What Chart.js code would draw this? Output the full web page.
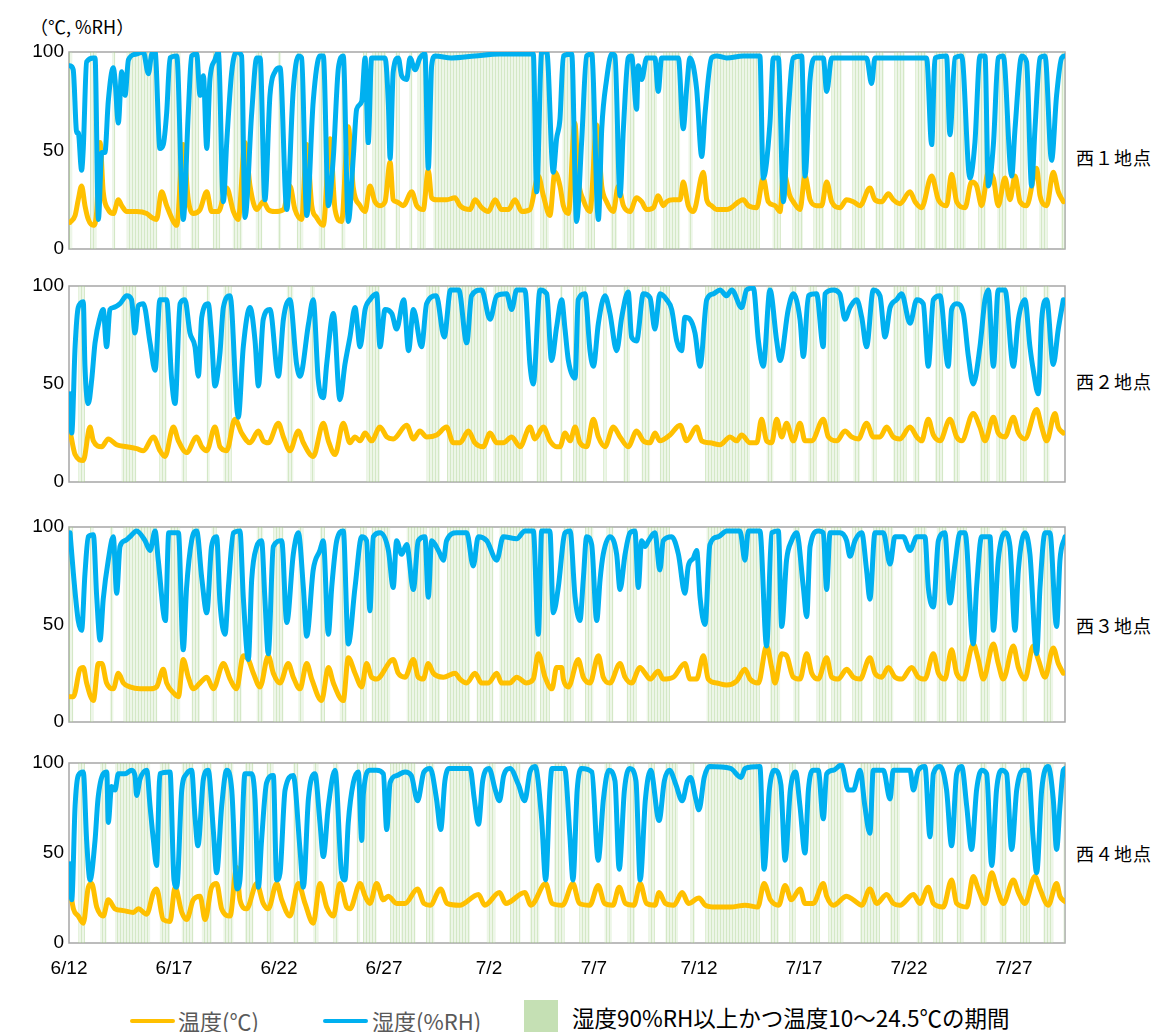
<!DOCTYPE html>
<html>
<head>
<meta charset="utf-8">
<script src="https://cdn.jsdelivr.net/npm/chart.js@4.4.1/dist/chart.umd.min.js"></script>
<style>
  body { margin: 0; background: #fff; }
  #page { position: relative; width: 1159px; height: 1032px; overflow: hidden; font-family: "Noto Sans CJK JP", sans-serif; }
  #page canvas { position: absolute; left: 0; }
  .txt { position: absolute; line-height: 1; white-space: nowrap; transform: translateY(-50%); }
  .site { left: 1076px; font-size: 18px; color: #000; letter-spacing: 1px; }
  .key { position: absolute; height: 4px; width: 45px; border-radius: 2px; }
</style>
</head>
<body>
<div id="page">
  <div class="txt" style="left:30px; top:26px; font-size:18px; color:#000;">（℃, %RH）</div>

  <div class="key" style="left:130px; top:1019px; background:#ffc000;"></div>
  <div class="txt" style="left:178px; top:1020px; font-size:22px; color:#595959;">温度(℃)</div>
  <div class="key" style="left:323px; top:1019px; background:#00b0f0;"></div>
  <div class="txt" style="left:372px; top:1020px; font-size:22px; color:#595959;">湿度(%RH)</div>
  <div style="position:absolute; left:524px; top:1000px; width:34px; height:32px; background:#c5e0b4;"></div>
  <div class="txt" style="left:572px; top:1017px; font-size:22.5px; color:#000;">湿度90%RH以上かつ温度10～24.5℃の期間</div>
</div>
<script>
// x = days from 6/12 0:00
const tickLabels = ['6/12', '6/17', '6/22', '6/27', '7/2', '7/7', '7/12', '7/17', '7/22', '7/27'];
const siteNames = ['西１地点', '西２地点', '西３地点', '西４地点'];

// 西1
const w1Hum = [[0.05,93],[0.2,91],[0.37,59],[0.44,59],[0.6,40],[0.68,51],[0.84,95],[1.16,97],[1.24,97],[1.4,15],[1.56,49],[1.71,49],[1.87,75],[2.11,92],[2.19,86],[2.35,64],[2.51,90],[2.67,78],[2.83,96],[3.22,99],[3.54,100],[3.78,89],[3.94,99],[4.1,100],[4.33,51],[4.49,53],[4.65,69],[4.81,97],[5.13,98],[5.44,15],[5.68,69],[5.84,98],[6.08,99],[6.24,78],[6.4,88],[6.56,51],[6.71,86],[6.95,96],[7.11,100],[7.35,24],[7.51,54],[7.75,90],[7.98,100],[8.22,98],[8.38,16],[8.7,69],[8.94,97],[9.1,97],[9.33,25],[9.57,78],[9.81,90],[10.05,92],[10.37,20],[10.68,81],[10.92,98],[11.08,97],[11.32,17],[11.63,75],[11.95,98],[12.11,98],[12.35,22],[12.59,47],[12.83,92],[13.06,98],[13.3,14],[13.54,47],[13.7,71],[13.94,75],[14.1,97],[14.25,54],[14.41,97],[14.81,97],[15.05,97],[15.21,73],[15.29,46],[15.44,90],[15.68,97],[15.84,88],[16.08,86],[16.24,97],[16.48,91],[16.71,97],[16.95,99],[17.11,41],[17.27,93],[17.43,98],[18.22,97],[19.33,98],[20.5,99],[22.11,99],[22.27,29],[22.51,100],[22.75,100],[23.06,39],[23.22,56],[23.38,66],[23.54,98],[23.94,99],[24.17,14],[24.41,54],[24.65,98],[24.89,99],[25.21,15],[25.37,61],[25.6,86],[25.84,99],[26.0,98],[26.24,27],[26.4,61],[26.63,97],[26.79,98],[27.03,71],[27.11,93],[27.27,86],[27.51,97],[27.9,97],[28.06,80],[28.22,97],[29.02,97],[29.25,61],[29.41,81],[29.57,97],[29.89,81],[30.13,47],[30.29,69],[30.6,97],[30.84,98],[31.32,97],[32.11,98],[32.9,98],[33.06,36],[33.38,64],[33.54,97],[33.78,97],[34.02,24],[34.25,69],[34.49,97],[34.89,98],[35.05,37],[35.29,86],[35.52,97],[35.92,97],[36.08,80],[36.32,97],[37.98,97],[38.22,84],[38.38,97],[40.84,97],[41.08,53],[41.24,97],[41.79,98],[41.95,58],[42.19,97],[42.51,98],[42.9,36],[43.14,54],[43.38,98],[43.62,98],[43.78,32],[44.02,53],[44.25,97],[44.49,98],[44.89,37],[45.05,61],[45.37,98],[45.6,95],[45.84,32],[46.0,61],[46.24,97],[46.48,98],[46.79,45],[47.03,78],[47.27,97],[47.43,98]];
const w1Temp = [[0.05,13.5],[0.29,17],[0.44,25],[0.6,32],[0.76,22],[0.92,15],[1.16,12],[1.32,19],[1.48,54],[1.63,29],[1.87,20],[2.11,18],[2.35,25],[2.51,22],[2.75,19],[3.22,19],[3.7,18],[3.94,16],[4.17,15],[4.41,29],[4.65,22],[4.97,14],[5.13,12],[5.44,53],[5.68,25],[5.92,18],[6.24,20],[6.56,29],[6.79,19],[7.11,19],[7.51,31],[7.83,19],[8.06,15],[8.38,54],[8.62,32],[8.94,20],[9.25,24],[9.49,20],[9.81,19],[10.21,20],[10.52,32],[10.76,20],[11.08,15],[11.32,53],[11.56,22],[11.79,16],[12.11,12],[12.43,56],[12.67,20],[12.98,14],[13.3,62],[13.54,31],[13.86,22],[14.1,19],[14.33,32],[14.57,24],[14.81,22],[15.05,24],[15.29,44],[15.44,25],[15.6,24],[15.92,22],[16.32,29],[16.56,22],[16.87,20],[17.11,40],[17.27,26],[17.51,25],[17.98,25],[18.38,26],[18.62,22],[19.1,20],[19.33,25],[19.65,21],[19.97,19],[20.29,25],[20.6,20],[20.92,20],[21.24,25],[21.56,19],[21.95,20],[22.35,37],[22.59,27],[22.9,17],[23.14,39],[23.38,32],[23.54,22],[23.78,18],[24.09,64],[24.25,36],[24.49,25],[24.81,19],[25.13,63],[25.37,32],[25.6,24],[25.92,19],[26.16,32],[26.4,22],[26.71,19],[27.03,26],[27.27,24],[27.51,20],[27.83,21],[28.06,27],[28.3,22],[28.46,24],[28.78,25],[29.1,25],[29.25,34],[29.49,22],[29.73,19],[30.21,39],[30.37,25],[30.6,22],[30.84,20],[31.32,20],[32.11,25],[32.35,22],[32.75,21],[33.06,36],[33.3,24],[33.62,22],[33.86,19],[34.02,39],[34.33,27],[34.49,24],[34.81,20],[35.05,37],[35.29,25],[35.6,22],[35.84,22],[36.08,34],[36.32,24],[36.71,21],[37.03,25],[37.35,24],[37.67,22],[38.14,31],[38.38,25],[38.7,24],[39.02,28],[39.25,25],[39.57,23],[40.05,29],[40.29,24],[40.6,21],[41.08,37],[41.4,25],[41.79,22],[42.03,38],[42.27,24],[42.67,21],[42.98,34],[43.22,32],[43.46,22],[43.78,39],[44.02,36],[44.25,22],[44.57,36],[44.81,25],[45.05,37],[45.29,24],[45.6,22],[46.08,41],[46.24,27],[46.56,22],[46.87,39],[47.11,29],[47.35,24]];
const w1Wet = [[0,0.15],[1.0,1.3],[2.05,2.2],[2.75,4.2],[4.8,5.3],[5.8,6.2],[6.85,7.2],[7.8,8.25],[8.9,9.2],[9.95,10.1],[10.85,11.15],[11.9,12.2],[12.95,13.15],[14.0,14.2],[14.45,15.1],[15.55,15.75],[16.2,16.35],[16.6,17.0],[17.35,22.15],[22.45,22.85],[23.5,24.05],[24.6,25.05],[25.8,26.1],[26.6,26.95],[27.45,28.0],[28.3,29.1],[29.5,29.7],[30.6,32.9],[33.5,33.9],[34.45,34.95],[35.45,35.95],[36.3,36.8],[37.3,37.9],[38.4,38.8],[39.3,39.8],[40.3,40.8],[41.2,41.8],[42.15,42.7],[43.3,43.65],[44.2,44.65],[45.3,45.6],[46.2,46.6],[47.25,47.43]];

// 西2
const w2Hum = [[0.05,45],[0.13,25],[0.29,69],[0.44,89],[0.68,92],[0.76,59],[0.92,40],[1.08,52],[1.24,71],[1.48,84],[1.63,88],[1.79,69],[1.95,88],[2.11,89],[2.43,91],[2.75,95],[2.98,93],[3.14,76],[3.3,90],[3.54,91],[3.86,71],[4.1,57],[4.33,93],[4.65,93],[4.89,52],[5.05,40],[5.29,91],[5.52,93],[5.76,76],[6.0,69],[6.16,54],[6.32,84],[6.63,91],[6.79,74],[6.95,49],[7.19,66],[7.35,89],[7.67,95],[8.06,33],[8.3,69],[8.62,89],[8.86,72],[9.02,49],[9.25,83],[9.57,88],[9.97,54],[10.21,83],[10.52,93],[10.84,60],[11.0,54],[11.41,81],[11.63,93],[11.87,52],[12.11,43],[12.27,60],[12.59,86],[12.9,42],[13.14,60],[13.38,74],[13.62,89],[13.86,69],[14.1,88],[14.33,93],[14.65,96],[14.81,69],[15.05,88],[15.37,86],[15.6,78],[15.94,93],[16.17,67],[16.4,88],[16.79,69],[17.03,91],[17.49,95],[17.87,74],[18.17,98],[18.56,98],[18.94,71],[19.17,95],[19.65,98],[20.05,83],[20.37,95],[20.84,96],[21.08,88],[21.32,98],[21.71,98],[21.95,60],[22.11,50],[22.43,98],[22.75,96],[22.98,62],[23.22,79],[23.46,93],[23.62,78],[23.78,62],[24.1,53],[24.25,93],[24.57,96],[24.81,67],[24.97,59],[25.21,81],[25.52,95],[25.76,86],[26.08,67],[26.32,84],[26.63,97],[26.79,74],[27.03,72],[27.35,96],[27.67,94],[27.9,78],[28.14,96],[28.46,93],[28.7,88],[28.94,72],[29.17,67],[29.33,84],[29.57,83],[29.81,76],[30.05,59],[30.37,93],[30.68,96],[31.0,98],[31.32,95],[31.56,98],[32.03,89],[32.27,98],[32.59,99],[32.83,72],[33.06,59],[33.38,98],[33.7,72],[33.86,62],[34.25,88],[34.49,96],[34.81,83],[34.97,64],[35.21,95],[35.6,96],[35.92,69],[36.0,96],[36.4,98],[36.71,96],[36.95,83],[37.19,89],[37.51,93],[37.75,84],[37.98,69],[38.3,98],[38.62,95],[38.86,74],[39.1,89],[39.41,93],[39.65,96],[40.05,81],[40.37,93],[40.68,91],[40.92,59],[41.16,93],[41.48,95],[41.87,59],[42.03,88],[42.27,91],[42.59,86],[42.83,64],[43.06,50],[43.38,69],[43.62,93],[43.78,98],[44.02,59],[44.25,98],[44.57,98],[44.97,59],[45.21,83],[45.52,93],[45.76,69],[45.92,57],[46.16,45],[46.32,83],[46.56,93],[46.87,60],[47.11,78],[47.35,93]];
const w2Temp = [[0.05,26],[0.29,14],[0.68,11],[1.0,28],[1.16,21],[1.56,18],[1.87,22],[2.27,19],[2.75,18],[3.22,17],[3.54,16],[4.02,23],[4.33,16],[4.57,13],[4.97,28],[5.21,21],[5.6,15],[6.08,23],[6.32,18],[6.56,16],[6.95,28],[7.19,18],[7.51,16],[7.9,32],[8.22,25],[8.62,20],[9.02,26],[9.25,21],[9.49,20],[9.97,30],[10.21,23],[10.52,16],[10.92,26],[11.16,20],[11.63,13],[12.11,30],[12.35,21],[12.67,14],[13.06,30],[13.38,20],[13.62,23],[13.86,21],[14.1,25],[14.41,21],[14.81,28],[15.13,23],[15.44,22],[16.08,29],[16.4,22],[16.71,26],[17.03,23],[17.51,24],[17.98,28],[18.3,20],[18.62,20],[19.02,26],[19.33,20],[19.73,18],[20.05,25],[20.37,20],[20.68,20],[21.08,23],[21.48,18],[21.95,28],[22.19,22],[22.59,28],[22.9,21],[23.22,18],[23.38,18],[23.62,25],[23.86,21],[24.1,28],[24.33,20],[24.65,18],[24.97,32],[25.21,23],[25.52,18],[25.92,28],[26.24,23],[26.63,18],[27.03,26],[27.35,21],[27.67,20],[27.9,25],[28.14,21],[28.62,24],[29.1,29],[29.41,21],[29.89,28],[30.13,21],[30.52,20],[31.0,19],[31.48,23],[31.79,21],[32.03,24],[32.43,20],[32.75,20],[32.98,32],[33.22,21],[33.46,20],[33.7,32],[33.94,23],[34.17,30],[34.49,21],[34.81,30],[35.05,21],[35.37,21],[35.92,32],[36.16,23],[36.56,21],[36.95,26],[37.27,23],[37.59,22],[37.98,30],[38.3,23],[38.62,23],[38.94,28],[39.25,23],[39.57,22],[40.05,28],[40.37,23],[40.6,21],[40.92,32],[41.16,24],[41.48,21],[41.95,32],[42.27,23],[42.51,21],[43.06,35],[43.38,28],[43.62,21],[44.02,33],[44.25,25],[44.57,23],[44.97,33],[45.21,25],[45.52,22],[46.08,37],[46.32,28],[46.56,21],[46.95,35],[47.11,28],[47.35,25]];
const w2Wet = [[0.44,0.76],[2.5,3.2],[4.3,4.65],[5.36,5.6],[6.56,6.7],[7.35,7.75],[10.37,10.68],[11.48,11.71],[14.17,14.8],[17.03,17.67],[18.0,19.9],[20.2,21.6],[22.27,22.75],[23.38,23.5],[24.0,24.65],[25.44,25.6],[26.4,26.71],[27.27,27.67],[28.14,28.62],[30.29,32.43],[33.22,33.54],[34.33,34.65],[35.21,35.6],[36.08,36.71],[37.35,37.67],[38.22,38.46],[39.25,39.89],[40.2,40.5],[41.24,41.63],[42.11,42.43],[43.38,43.86],[44.17,44.65],[45.29,45.6],[46.4,46.7]];

// 西3
const w3Hum = [[0.05,97],[0.21,76],[0.44,52],[0.6,47],[0.76,76],[0.92,95],[1.16,96],[1.32,64],[1.48,42],[1.63,63],[1.87,83],[2.11,95],[2.27,66],[2.43,90],[2.67,93],[2.9,95],[3.22,98],[3.62,93],[3.86,88],[4.1,98],[4.25,83],[4.59,52],[4.75,97],[5.21,97],[5.44,37],[5.6,69],[5.84,93],[6.08,98],[6.32,74],[6.56,56],[6.79,90],[7.03,95],[7.19,61],[7.43,45],[7.59,69],[7.83,97],[8.14,98],[8.3,64],[8.54,32],[8.7,73],[8.94,90],[9.17,93],[9.33,63],[9.49,35],[9.73,90],[10.13,93],[10.37,51],[10.68,86],[10.92,97],[11.16,69],[11.32,44],[11.63,78],[11.95,88],[12.11,93],[12.35,45],[12.51,69],[12.75,93],[13.06,98],[13.3,40],[13.62,69],[13.94,95],[14.17,93],[14.33,57],[14.49,95],[14.81,97],[15.21,88],[15.44,69],[15.6,93],[15.84,86],[16.08,91],[16.4,68],[16.63,93],[16.95,95],[17.11,64],[17.27,93],[17.59,88],[17.83,83],[17.98,93],[18.46,97],[18.94,97],[19.25,80],[19.49,95],[19.89,93],[20.37,83],[20.68,95],[21.32,94],[21.71,98],[22.11,98],[22.35,45],[22.51,98],[22.9,98],[23.06,56],[23.3,69],[23.54,93],[23.62,97],[23.86,98],[24.1,64],[24.33,52],[24.49,73],[24.65,95],[24.89,91],[25.13,52],[25.29,73],[25.44,86],[25.76,95],[26.08,86],[26.24,68],[26.48,86],[26.71,97],[26.95,98],[27.11,69],[27.27,93],[27.43,90],[27.6,93],[27.9,97],[28.14,78],[28.3,93],[28.7,95],[29.02,86],[29.33,66],[29.49,80],[29.73,84],[29.89,88],[30.05,64],[30.29,50],[30.52,91],[30.92,95],[31.32,98],[31.95,98],[32.19,83],[32.35,98],[32.9,98],[33.22,39],[33.46,97],[33.78,98],[33.94,49],[34.17,83],[34.41,93],[34.65,97],[34.97,69],[35.13,54],[35.29,90],[35.68,98],[35.92,97],[36.08,68],[36.24,97],[36.71,97],[37.03,93],[37.19,85],[37.43,93],[37.75,97],[37.98,78],[38.14,63],[38.38,97],[38.78,97],[39.1,81],[39.33,95],[39.73,95],[40.05,88],[40.37,95],[40.76,95],[40.92,69],[41.16,59],[41.4,93],[41.71,97],[41.95,61],[42.19,81],[42.43,97],[42.67,97],[43.06,40],[43.22,69],[43.46,95],[43.86,95],[44.02,47],[44.25,83],[44.57,97],[44.81,90],[45.05,47],[45.21,78],[45.52,97],[45.76,86],[46.08,35],[46.24,69],[46.48,97],[46.71,97],[47.03,49],[47.19,83],[47.43,95]];
const w3Temp = [[0.05,13],[0.21,13],[0.52,27],[0.68,28],[0.84,20],[1.16,11],[1.4,30],[1.56,30],[1.79,20],[2.11,17],[2.35,25],[2.59,20],[2.9,18],[3.38,17],[3.86,17],[4.17,18],[4.49,27],[4.65,20],[4.97,15],[5.21,13],[5.44,32],[5.68,23],[5.92,17],[6.24,20],[6.56,23],[6.87,17],[7.35,30],[7.67,22],[7.98,17],[8.3,34],[8.54,32],[8.78,25],[9.1,18],[9.49,34],[9.73,25],[10.05,20],[10.44,30],[10.68,23],[11.0,17],[11.32,30],[11.56,22],[12.03,11],[12.35,28],[12.59,20],[13.06,11],[13.3,33],[13.62,25],[13.94,18],[14.17,30],[14.41,23],[14.65,22],[15.44,32],[15.68,25],[16.0,23],[16.4,32],[16.63,23],[16.87,22],[17.11,30],[17.35,25],[17.83,23],[18.38,25],[18.62,22],[18.94,20],[19.33,25],[19.65,20],[19.97,20],[20.37,25],[20.6,20],[20.98,20],[21.32,23],[21.79,20],[22.11,22],[22.35,35],[22.67,23],[23.0,17],[23.22,28],[23.46,28],[23.54,22],[23.78,18],[24.25,32],[24.49,23],[24.81,20],[25.21,34],[25.44,23],[25.76,20],[26.24,30],[26.48,23],[26.79,20],[27.19,28],[27.43,25],[27.67,22],[28.06,26],[28.3,22],[28.78,23],[29.33,30],[29.57,22],[29.89,22],[30.21,34],[30.44,22],[30.84,20],[31.32,19],[31.79,21],[32.19,27],[32.43,22],[32.83,20],[33.22,39],[33.46,28],[33.62,20],[33.94,35],[34.17,34],[34.49,23],[34.81,22],[35.13,35],[35.37,25],[35.68,22],[36.08,33],[36.32,23],[36.63,22],[37.03,27],[37.35,23],[37.67,22],[38.14,33],[38.38,25],[38.7,23],[39.02,28],[39.33,23],[39.65,22],[40.13,28],[40.44,23],[40.76,22],[41.16,35],[41.4,25],[41.71,22],[42.03,37],[42.27,25],[42.59,22],[43.06,40],[43.3,32],[43.54,22],[44.02,40],[44.25,30],[44.49,22],[44.97,39],[45.21,28],[45.52,22],[45.92,39],[46.16,32],[46.48,23],[46.87,38],[47.11,30],[47.35,25]];
const w3Wet = [[0,0.2],[1.0,1.16],[1.95,2.11],[2.6,4.2],[4.81,5.29],[5.84,6.24],[6.79,7.03],[7.83,8.22],[8.94,9.25],[9.73,10.21],[10.92,11.16],[11.95,12.19],[12.9,13.22],[13.86,14.17],[14.41,15.29],[16.08,17.03],[17.17,17.67],[18.0,19.1],[19.41,20.21],[20.5,22.27],[22.43,22.9],[23.54,24.02],[24.57,24.97],[25.6,25.92],[26.56,27.03],[27.51,28.62],[30.36,32.9],[33.38,33.86],[34.49,34.81],[35.6,36.08],[36.3,36.8],[37.3,37.8],[38.3,39.25],[40.2,40.84],[41.33,41.8],[42.27,42.75],[43.38,43.86],[44.33,44.65],[45.37,45.6],[46.4,46.87]];

// 西4
const w4Hum = [[0.05,44],[0.13,24],[0.29,76],[0.44,93],[0.68,95],[0.84,57],[1.0,35],[1.24,57],[1.38,80],[1.63,94],[1.8,95],[1.87,67],[2.03,87],[2.19,85],[2.35,94],[2.67,94],[2.98,96],[3.14,93],[3.22,82],[3.38,91],[3.7,96],[3.86,76],[4.02,57],[4.17,43],[4.33,94],[4.81,95],[5.0,35],[5.13,31],[5.37,85],[5.6,94],[5.84,96],[6.0,70],[6.14,54],[6.4,91],[6.63,96],[6.87,63],[7.03,39],[7.27,76],[7.51,96],[7.75,85],[8.0,30],[8.14,35],[8.38,94],[8.7,94],[8.86,80],[9.02,31],[9.17,57],[9.41,89],[9.73,93],[9.89,35],[10.05,39],[10.29,85],[10.68,93],[11.0,52],[11.16,31],[11.4,80],[11.71,94],[11.95,67],[12.11,48],[12.35,76],[12.67,96],[12.98,39],[13.14,35],[13.3,67],[13.54,89],[13.78,95],[13.94,57],[14.02,83],[14.33,96],[14.65,96],[14.97,94],[15.13,63],[15.29,89],[15.6,93],[16.0,95],[16.3,93],[16.6,79],[16.9,95],[17.2,97],[17.5,80],[17.7,63],[17.9,90],[18.1,97],[19.1,97],[19.3,80],[19.5,66],[19.7,90],[20.0,97],[20.3,85],[20.5,79],[20.7,93],[21.0,97],[21.4,88],[21.7,79],[21.95,95],[22.2,98],[22.5,70],[22.7,35],[22.9,85],[23.0,97],[23.6,97],[23.85,60],[24.0,35],[24.2,85],[24.4,97],[24.9,95],[25.2,46],[25.45,80],[25.7,96],[26.0,90],[26.2,41],[26.45,85],[26.7,97],[27.0,90],[27.2,35],[27.45,80],[27.7,96],[28.1,68],[28.35,90],[28.6,96],[28.9,88],[29.2,79],[29.45,90],[29.6,92],[29.85,80],[30.0,74],[30.25,92],[30.5,98],[31.5,97],[32.0,92],[32.2,97],[32.9,98],[33.1,41],[33.35,85],[33.6,96],[33.9,88],[34.1,46],[34.35,85],[34.6,95],[34.81,76],[35.05,50],[35.21,85],[35.44,96],[35.68,96],[35.92,69],[36.08,94],[36.4,96],[36.79,99],[37.11,85],[37.35,85],[37.67,96],[37.9,76],[38.14,61],[38.3,96],[38.78,96],[39.1,80],[39.25,96],[40.05,96],[40.21,85],[40.44,96],[40.76,98],[41.0,59],[41.16,94],[41.48,98],[41.79,85],[42.03,54],[42.27,94],[42.51,98],[42.75,76],[42.98,52],[43.22,85],[43.46,96],[43.7,94],[43.94,43],[44.17,85],[44.41,96],[44.65,94],[44.89,52],[45.13,85],[45.44,96],[45.68,96],[45.92,57],[46.08,39],[46.32,85],[46.63,98],[46.87,80],[47.03,52],[47.19,76],[47.35,96],[47.43,97]];
const w4Temp = [[0.05,30],[0.21,19],[0.44,15],[0.68,11],[0.92,31],[1.08,33],[1.32,20],[1.63,15],[1.87,24],[2.19,19],[2.59,18],[3.06,17],[3.3,19],[3.7,16],[4.02,28],[4.17,30],[4.49,13],[4.81,12],[5.05,31],[5.37,17],[5.6,13],[5.92,24],[6.24,26],[6.48,13],[6.79,31],[7.03,33],[7.27,19],[7.67,15],[7.98,42],[8.14,24],[8.46,19],[8.94,33],[9.25,22],[9.49,19],[9.89,33],[10.13,24],[10.52,15],[10.92,33],[11.24,22],[11.63,11],[11.95,33],[12.27,20],[12.59,15],[12.9,33],[13.22,20],[13.38,19],[13.86,33],[14.1,26],[14.33,22],[14.65,33],[14.97,24],[15.2,26],[15.6,22],[16.0,22],[16.6,30],[16.9,22],[17.2,21],[17.7,30],[18.0,22],[18.6,21],[19.5,27],[19.8,21],[20.5,28],[20.8,22],[21.7,28],[22.0,21],[22.7,33],[23.0,22],[23.5,21],[24.0,33],[24.3,22],[24.8,21],[25.2,32],[25.5,22],[25.9,21],[26.2,31],[26.5,22],[26.9,21],[27.2,33],[27.5,22],[27.9,21],[28.1,28],[28.4,22],[28.8,21],[29.2,28],[29.5,22],[30.0,25],[30.3,21],[30.8,20],[31.5,20],[32.2,21],[32.8,20],[33.1,33],[33.4,24],[33.8,21],[34.1,32],[34.4,24],[34.81,30],[35.05,22],[35.44,22],[35.92,33],[36.08,26],[36.4,21],[37.03,26],[37.35,24],[37.75,21],[38.14,30],[38.46,22],[38.94,27],[39.25,22],[39.57,21],[40.21,27],[40.52,22],[40.92,31],[41.16,22],[41.63,20],[42.03,35],[42.27,22],[42.75,20],[43.06,37],[43.3,30],[43.62,22],[43.94,39],[44.17,31],[44.49,22],[44.97,35],[45.21,28],[45.52,22],[46.0,37],[46.24,30],[46.63,21],[47.03,33],[47.19,26],[47.43,23]];
const w4Wet = [[0.44,0.76],[1.48,1.79],[2.19,3.86],[4.33,4.81],[5.37,5.92],[6.33,6.8],[7.35,7.83],[8.38,8.78],[9.41,9.73],[10.68,10.92],[11.63,11.87],[12.59,12.83],[13.7,13.86],[14.0,14.65],[15.29,15.76],[15.8,16.5],[17.0,17.4],[18.1,19.1],[19.9,20.3],[21.0,21.5],[21.95,22.4],[23.1,23.6],[24.3,24.8],[25.5,25.85],[26.6,26.95],[27.6,27.9],[28.4,29.0],[29.6,29.8],[30.3,32.9],[33.4,33.8],[34.3,34.6],[35.29,35.76],[36.16,36.87],[37.67,38.62],[39.1,39.57],[40.37,40.68],[41.16,41.63],[42.27,42.59],[43.38,43.7],[44.33,44.65],[45.29,45.76],[46.4,46.87],[47.35,47.43]];

const xMax = 47.43;

const panels = [
  { hum: w1Hum, temp: w1Temp, wet: w1Wet, top: 52, bottom: 249, nameY: 157 },
  { hum: w2Hum, temp: w2Temp, wet: w2Wet, top: 286, bottom: 482, nameY: 381 },
  { hum: w3Hum, temp: w3Temp, wet: w3Wet, top: 527, bottom: 722, nameY: 625 },
  { hum: w4Hum, temp: w4Temp, wet: w4Wet, top: 763, bottom: 943, nameY: 853 },
];

const toXY = (pairs) => pairs.map(([x, y]) => ({ x, y }));
// each wet period becomes a filled block from 0 to 100
const toBlocks = (spans) => {
  const out = [];
  spans.forEach(([s, e]) => {
    out.push({ x: s, y: 0 }, { x: s, y: 100 }, { x: e, y: 100 }, { x: e, y: 0 });
  });
  return out;
};

// thin vertical stripes like the hourly bars of the original
const pc = document.createElement('canvas');
pc.width = 3; pc.height = 1;
const pctx = pc.getContext('2d');
pctx.fillStyle = 'rgba(169,209,142,0.5)';
pctx.fillRect(0, 0, 1, 1);
pctx.fillStyle = 'rgba(197,224,180,0.3)';
pctx.fillRect(1, 0, 2, 1);
const wetFill = pctx.createPattern(pc, 'repeat');

const frame = {
  id: 'frame',
  beforeDatasetsDraw(chart) {
    const { ctx, chartArea: a } = chart;
    ctx.save();
    ctx.strokeStyle = '#a6a6a6';
    ctx.lineWidth = 1.5;
    ctx.strokeRect(a.left, a.top, a.right - a.left, a.bottom - a.top);
    ctx.restore();
  },
};

const page = document.getElementById('page');
const tickFont = { family: '"Liberation Sans", Arial, sans-serif', size: 19 };

panels.forEach((p, i) => {
  const showX = i === panels.length - 1;
  const padTop = 14;
  const axisH = showX ? 40 : 0;
  const cv = document.createElement('canvas');
  cv.width = 1066;
  cv.height = (p.bottom - p.top) + padTop + (showX ? axisH : padTop);
  cv.style.top = (p.top - padTop) + 'px';
  page.appendChild(cv);

  const name = document.createElement('div');
  name.className = 'txt site';
  name.style.top = p.nameY + 'px';
  name.textContent = siteNames[i];
  page.appendChild(name);

  new Chart(cv, {
    type: 'line',
    data: {
      datasets: [
        { label: '湿度(%RH)', data: toXY(p.hum), borderColor: '#00b0f0', borderWidth: 5, fill: false, order: 0, clip: 0, cubicInterpolationMode: 'monotone' },
        { label: '温度(℃)', data: toXY(p.temp), borderColor: '#ffc000', borderWidth: 5, fill: false, order: 1, clip: 0, cubicInterpolationMode: 'monotone' },
        { label: '期間', data: toBlocks(p.wet), borderWidth: 0, borderColor: 'rgba(0,0,0,0)', backgroundColor: wetFill, fill: 'origin', order: 2, tension: 0 },
      ],
    },
    options: {
      responsive: false,
      animation: false,
      events: [],
      layout: { padding: { top: padTop, right: 1, left: 0, bottom: showX ? 0 : padTop } },
      plugins: { legend: { display: false }, tooltip: { enabled: false } },
      elements: {
        point: { radius: 0 },
        line: { tension: 0, borderJoinStyle: 'round', borderCapStyle: 'round' },
      },
      scales: {
        x: {
          type: 'linear',
          min: 0,
          max: xMax,
          display: showX,
          grid: { display: false, drawTicks: false },
          border: { display: false },
          ticks: {
            stepSize: 5,
            includeBounds: false,
            autoSkip: false,
            maxRotation: 0,
            padding: 14,
            color: '#000',
            font: tickFont,
            callback: (v) => tickLabels[Math.round(v / 5)] ?? '',
          },
          afterFit: (s) => { s.height = axisH; s.paddingLeft = 0; s.paddingRight = 0; },
        },
        y: {
          min: 0,
          max: 100,
          grid: { display: false, drawTicks: false },
          border: { display: false },
          ticks: { stepSize: 50, padding: 5, color: '#000', font: tickFont },
          afterFit: (s) => { s.width = 69; s.paddingTop = 0; s.paddingBottom = 0; },
        },
      },
    },
    plugins: [frame],
  });
});
</script>
</body>
</html>
